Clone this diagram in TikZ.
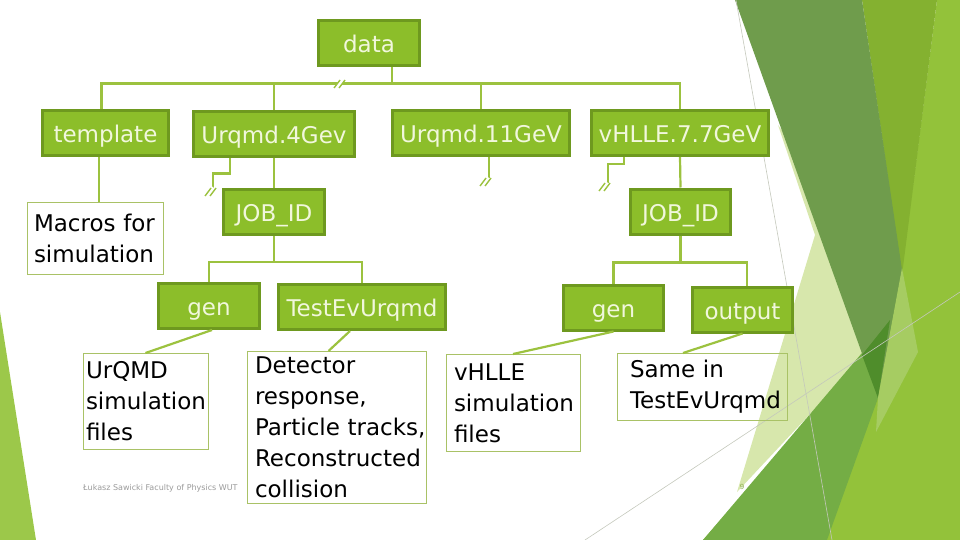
\documentclass[tikz,border=0pt]{standalone}
\usepackage{fontspec}
\setmainfont{DejaVu Sans}
\usetikzlibrary{calc}
\definecolor{boxfill}{HTML}{8CBE2A}
\definecolor{boxline}{HTML}{6E991F}
\definecolor{boxtext}{HTML}{F1F7DC}
\definecolor{linkgreen}{HTML}{9CC23F}
\definecolor{noteline}{HTML}{A9C266}
\definecolor{footgray}{HTML}{9A9A9A}
\definecolor{pagegreen}{HTML}{8BAE4E}
\definecolor{facetleft}{HTML}{9CC84A}
\definecolor{facetdark}{HTML}{6F9C4C}
\definecolor{facetmid}{HTML}{84B130}
\definecolor{facetbright}{HTML}{93C23A}
\definecolor{facetband}{HTML}{74AD45}
\definecolor{facetdeep}{HTML}{4F8D2B}
\definecolor{facetpale}{HTML}{D7E7AC}
\definecolor{facetlight}{HTML}{A6CC62}
\definecolor{facetrule}{HTML}{C4C8BC}
\tikzset{brk/.pic={
  \draw[white, line width=4pt] (-4,4) -- (3,-4);
  \draw[draw=linkgreen, line width=1.4pt] (-6,4) -- (0,-4) (-1,4) -- (5,-4);}}

\begin{document}
\begin{tikzpicture}[x=1pt, y=-1pt,
    folder/.style={rectangle, draw=boxline, line width=3pt, fill=boxfill, text=boxtext,
                   font=\fontsize{23}{31}\selectfont, inner sep=0pt, minimum height=45pt,
                   text height=24pt, text depth=5pt},
    note/.style={rectangle, draw=noteline, line width=1pt, text=black, align=left,
                 font=\fontsize{23}{31}\selectfont, inner ysep=0pt},
    link/.style={draw=linkgreen, line width=2.2pt}
]
\useasboundingbox (0,0) rectangle (960,540);
% slide facets
\fill[facetleft] (0,312) -- (36,540) -- (0,540) -- cycle;
\fill[facetbright] (937,0) -- (960,0) -- (960,540) -- (703,540) -- (868,352) -- (902,270) -- cycle;
\fill[facetmid] (862,0) -- (937,0) -- (902,275) -- cycle;
\fill[facetpale] (778,125) -- (815,235) -- (737,492) -- (868,352) -- (820,180) -- cycle;
\fill[facetband] (703,540) -- (890,320) -- (878,398) -- (827,540) -- cycle;
\fill[facetdark] (735,0) -- (862,0) -- (902,270) -- (878,398) -- cycle;
\fill[facetdeep] (862,355) -- (890,320) -- (878,398) -- cycle;
\fill[facetlight] (902,268) -- (918,352) -- (876,432) -- (878,398) -- cycle;
\draw[facetrule, line width=0.6pt] (736,0) -- (832,540);
\draw[facetrule, line width=0.6pt] (585,540) -- (960,292);
% green folders
\node[folder, minimum width=101pt] (data) at (369,43.5) {data};
\node[folder, minimum width=126pt] (template) at (105.5,133.5) {template};
\node[folder, minimum width=161pt] (urq4) at (274,134.5) {Urqmd.4Gev};
\node[folder, minimum width=177pt] (urq11) at (481,133) {Urqmd.11GeV};
\node[folder, minimum width=177pt] (vhlle) at (680,133) {vHLLE.7.7GeV};
\node[folder, minimum width=101pt] (job4) at (274,212) {JOB\_ID};
\node[folder, minimum width=100pt] (jobv) at (680.5,211.5) {JOB\_ID};
\node[folder, minimum width=101pt] (gen4) at (209,306) {gen};
\node[folder, minimum width=167pt] (test4) at (362,307) {TestEvUrqmd};
\node[folder, minimum width=100pt] (genv) at (613.5,307.5) {gen};
\node[folder, minimum width=100pt] (outv) at (742.5,309.5) {output};
% white notes
\node[note, text width=122pt, inner xsep=7pt, minimum height=72pt] (macros) at (95,238.5) {Macros for\\simulation};
\node[note, text width=119pt, inner xsep=3pt, minimum height=96pt] (files4) at (145.5,401.5) {UrQMD\\simulation\\files};
\node[note, text width=163pt, inner xsep=8pt, minimum height=152pt] (detect) at (336.5,427.5) {Detector\\response,\\\mbox{Particle tracks,}\\Reconstructed\\collision};
\node[note, text width=118pt, inner xsep=8pt, minimum height=97pt] (filesv) at (513,403) {vHLLE\\simulation\\files};
\node[note, text width=144pt, inner xsep=13pt, minimum height=67pt] (same) at (702,387) {Same in\\TestEvUrqmd};
% footer
\node[anchor=west, text=footgray, font=\fontsize{8}{9}\selectfont, inner sep=0pt] (footer) at (83,488) {Łukasz Sawicki Faculty of Physics WUT};
\node[text=pagegreen, font=\fontsize{7}{8}\selectfont, inner sep=0pt] (pagenum) at (742,487) {9};
% free ends of cut connectors
\coordinate (cut4) at (213,188);
\coordinate (cut11) at (489,178);
\coordinate (cutv) at (608,183);
% connectors
\draw[link] ([xshift=23pt]data.south) -- ++(0,16) -| ([xshift=-4pt]template.north);
\draw[link] ([xshift=23pt]data.south) -- ++(0,16) -| (urq4.north);
\draw[link] ([xshift=23pt]data.south) -- ++(0,16) -| (urq11.north);
\draw[link] ([xshift=23pt]data.south) -- ++(0,16) -| (vhlle.north);
\draw[link] ([xshift=-6.5pt]template.south) -- ([xshift=4pt]macros.north);
\draw[link] (urq4.south) -- (job4.north);
\draw[link] ([xshift=-44pt]urq4.south) -- ++(0,15) -| (cut4);
\draw[link] ([xshift=8pt]urq11.south) -- (cut11);
\draw[link] ([xshift=-56pt]vhlle.south) -- ++(0,7) -| (cutv);
\draw[link] (vhlle.south) -- (jobv.north);
\draw[link] (job4.south) -- ++(0,26) -| (gen4.north);
\draw[link] (job4.south) -- ++(0,26) -| (test4.north);
\draw[link] (jobv.south) -- ++(0,27) -| (genv.north);
\draw[link] (jobv.south) -- ++(0,27) -| ([xshift=4.5pt]outv.north);
\draw[link] ([xshift=3pt]gen4.south) -- (files4.north);
\draw[link] ([xshift=-12pt]test4.south) -- ([xshift=-8pt]detect.north);
\draw[link] (genv.south) -- (filesv.north);
\draw[link] (outv.south) -- ([xshift=-19pt]same.north);
% break marks
\pic at (340,84) {brk};
\pic at (211,192) {brk};
\pic at (486,182) {brk};
\pic at (605,187) {brk};
\end{tikzpicture}
\end{document}
